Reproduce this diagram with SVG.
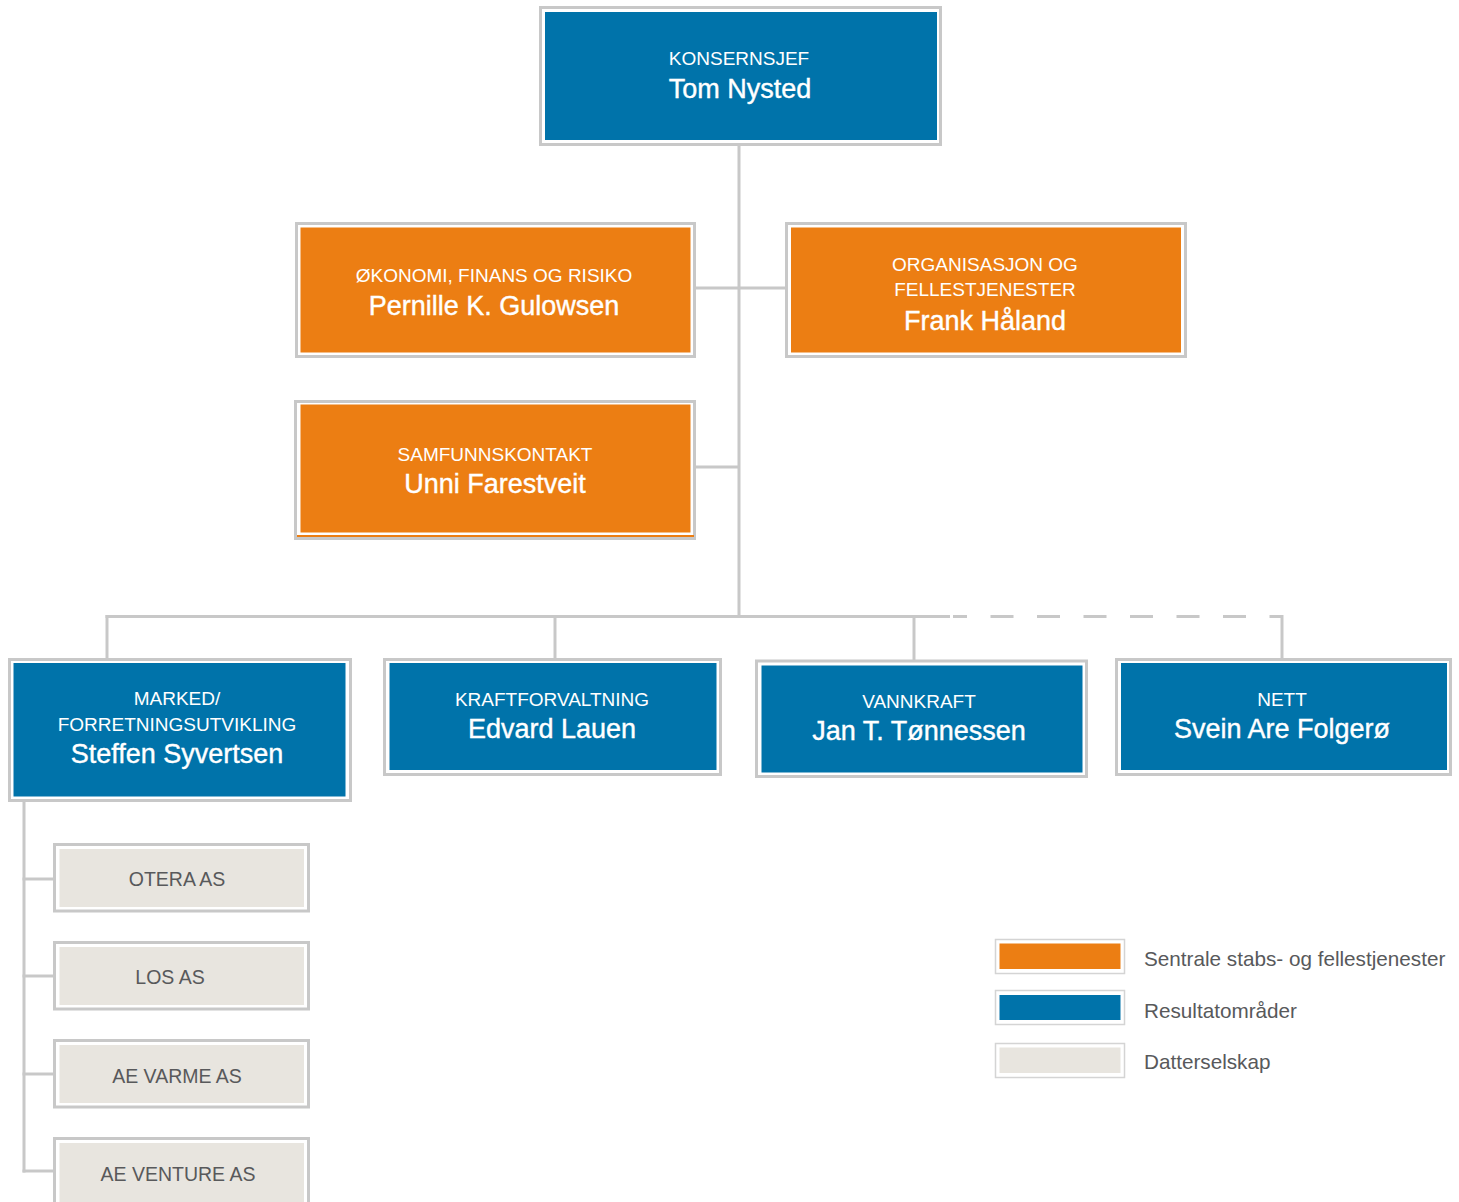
<svg xmlns="http://www.w3.org/2000/svg" width="1459" height="1202" viewBox="0 0 1459 1202">
<style>
.frame{fill:#ffffff;stroke:#c8c8c8;stroke-width:3}
.blue{fill:#0073aa}
.orange{fill:#ec7e13}
.beige{fill:#e8e5df}
.ln{stroke:#c8c8c8;stroke-width:3;fill:none}
.dash{stroke:#c8c8c8;stroke-width:3;fill:none;stroke-dasharray:23 23.5;stroke-dashoffset:9}
text{font-family:"Liberation Sans",Arial,sans-serif;text-anchor:middle}
.lbl{font-size:19px;fill:#ffffff}
.nm{font-size:27px;fill:#ffffff;stroke:#ffffff;stroke-width:0.4}
.sub{font-size:19.5px;fill:#58595b}
.leg{font-size:20.7px;fill:#58595b;text-anchor:start}
</style>
<rect width="1459" height="1202" fill="#ffffff"/>
<g id="connectors">
<line class="ln" x1="739" y1="146" x2="739" y2="617"/>
<line class="ln" x1="696" y1="288" x2="785" y2="288"/>
<line class="ln" x1="696" y1="467" x2="739" y2="467"/>
<line class="ln" x1="105.5" y1="616.5" x2="950" y2="616.5"/>
<path class="dash" d="M953 616.5 H1283"/>
<line class="ln" x1="107" y1="615" x2="107" y2="658"/>
<line class="ln" x1="555" y1="615" x2="555" y2="658"/>
<line class="ln" x1="914" y1="615" x2="914" y2="660"/>
<line class="ln" x1="1282" y1="615" x2="1282" y2="658"/>
<line class="ln" x1="24" y1="801" x2="24" y2="1172.5"/>
<line class="ln" x1="22.5" y1="879" x2="54" y2="879"/>
<line class="ln" x1="22.5" y1="976" x2="54" y2="976"/>
<line class="ln" x1="22.5" y1="1074" x2="54" y2="1074"/>
<line class="ln" x1="22.5" y1="1171" x2="54" y2="1171"/>
</g>
<g id="konsernsjef">
<rect class="frame" x="540.5" y="7.5" width="400" height="137"/>
<rect class="blue" x="545" y="12" width="392" height="128"/>
<text class="lbl" x="739" y="65">KONSERNSJEF</text>
<text class="nm" x="740" y="98">Tom Nysted</text>
</g>
<g id="okonomi">
<rect class="frame" x="296.5" y="223.5" width="398" height="133"/>
<rect class="orange" x="300.5" y="227.5" width="390" height="125"/>
<text class="lbl" x="494" y="282">ØKONOMI, FINANS OG RISIKO</text>
<text class="nm" x="494" y="315">Pernille K. Gulowsen</text>
</g>
<g id="organisasjon">
<rect class="frame" x="786.5" y="223.5" width="399" height="133"/>
<rect class="orange" x="791" y="227.5" width="390" height="125"/>
<text class="lbl" x="985" y="271">ORGANISASJON OG</text>
<text class="lbl" x="985" y="296">FELLESTJENESTER</text>
<text class="nm" x="985" y="330">Frank Håland</text>
</g>
<g id="samfunnskontakt">
<rect class="frame" x="295.5" y="401.5" width="399" height="137"/>
<rect class="orange" x="300.5" y="404.5" width="390" height="128"/>
<rect class="orange" x="297" y="535" width="397" height="2"/>
<text class="lbl" x="495" y="461">SAMFUNNSKONTAKT</text>
<text class="nm" x="495" y="493">Unni Farestveit</text>
</g>
<g id="marked">
<rect class="frame" x="9.5" y="659.5" width="341" height="141"/>
<rect class="blue" x="13.5" y="663" width="332" height="133.5"/>
<text class="lbl" x="177" y="705">MARKED/</text>
<text class="lbl" x="177" y="731">FORRETNINGSUTVIKLING</text>
<text class="nm" x="177" y="763">Steffen Syvertsen</text>
</g>
<g id="kraftforvaltning">
<rect class="frame" x="384.5" y="659.5" width="336" height="115"/>
<rect class="blue" x="389.5" y="663" width="327" height="107"/>
<text class="lbl" x="552" y="706">KRAFTFORVALTNING</text>
<text class="nm" x="552" y="738">Edvard Lauen</text>
</g>
<g id="vannkraft">
<rect class="frame" x="756.5" y="661" width="330" height="115.5"/>
<rect class="blue" x="761.5" y="665.5" width="321" height="107"/>
<text class="lbl" x="919" y="708">VANNKRAFT</text>
<text class="nm" x="919" y="740">Jan T. Tønnessen</text>
</g>
<g id="nett">
<rect class="frame" x="1116.5" y="659.5" width="334" height="115"/>
<rect class="blue" x="1121" y="663" width="326" height="107"/>
<text class="lbl" x="1282" y="706">NETT</text>
<text class="nm" x="1282" y="738">Svein Are Folgerø</text>
</g>
<g id="otera">
<rect class="frame" x="54.5" y="844.5" width="254" height="66.5"/>
<rect class="beige" x="59.5" y="849" width="244.5" height="58"/>
<text class="sub" x="177" y="886">OTERA AS</text>
</g>
<g id="los">
<rect class="frame" x="54.5" y="942.5" width="254" height="66.5"/>
<rect class="beige" x="59.5" y="947" width="244.5" height="58"/>
<text class="sub" x="170" y="984">LOS AS</text>
</g>
<g id="aevarme">
<rect class="frame" x="54.5" y="1040.5" width="254" height="66.5"/>
<rect class="beige" x="59.5" y="1045" width="244.5" height="58"/>
<text class="sub" x="177" y="1083">AE VARME AS</text>
</g>
<g id="aeventure">
<rect class="frame" x="54.5" y="1138.5" width="254" height="70"/>
<rect class="beige" x="59.5" y="1143" width="244.5" height="64"/>
<text class="sub" x="178" y="1181">AE VENTURE AS</text>
</g>
<g id="legend">
<rect x="995.5" y="939.5" width="129" height="34" fill="#fff" stroke="#d4d4d4" stroke-width="1.5"/>
<rect class="orange" x="999.5" y="943.5" width="121" height="25.5"/>
<text class="leg" x="1144" y="966">Sentrale stabs- og fellestjenester</text>
<rect x="995.5" y="990.5" width="129" height="34" fill="#fff" stroke="#d4d4d4" stroke-width="1.5"/>
<rect class="blue" x="999.5" y="995" width="121" height="25"/>
<text class="leg" x="1144" y="1018">Resultatområder</text>
<rect x="995.5" y="1043.5" width="129" height="34" fill="#fff" stroke="#d4d4d4" stroke-width="1.5"/>
<rect class="beige" x="999.5" y="1047.5" width="121" height="25.5"/>
<text class="leg" x="1144" y="1069">Datterselskap</text>
</g>
</svg>
